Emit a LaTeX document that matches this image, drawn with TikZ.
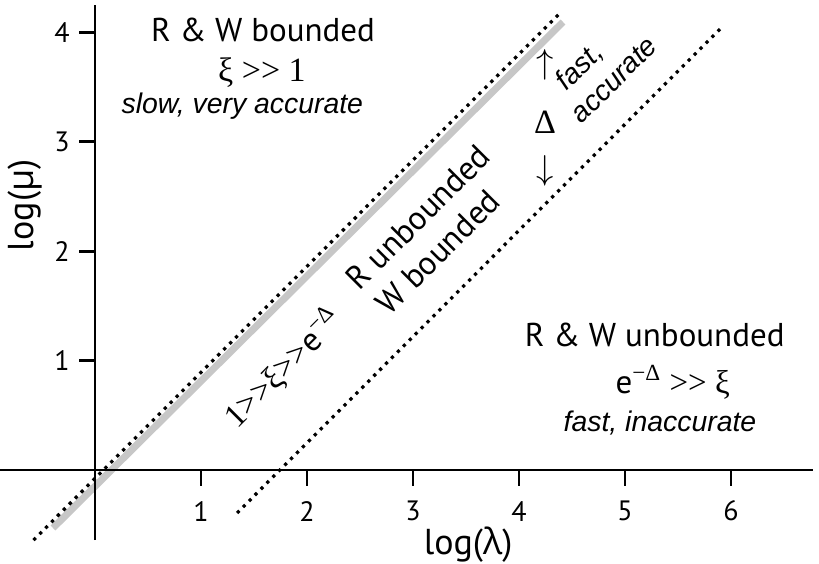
\documentclass[tikz,border=0pt]{standalone}
\usepackage{fontspec}
\setmainfont{PT Sans}
\newfontfamily\itfont{Liberation Sans}
\newfontfamily\tmfont{Liberation Serif}
\newfontfamily\grkfont{Open Sans}
\begin{document}
\begin{tikzpicture}[x=53pt, y=54.7pt, line cap=butt,
    axisline/.style={line width=1.4pt},
    dotline/.style={line width=1.6pt, dash pattern=on 1.6pt off 2.6pt},
    bandline/.style={line width=3.5pt, black!22},
    mainlbl/.style={font=\fontsize{16.5}{20}\selectfont, inner sep=0pt},
    slantlbl/.style={font=\itfont\itshape\fontsize{14.2}{17}\selectfont, inner sep=0pt},
    symlbl/.style={font=\tmfont\fontsize{17}{20}\selectfont, inner sep=0pt},
    ticklbl/.style={font=\fontsize{14}{16}\selectfont, inner sep=0pt},
    axislbl/.style={font=\fontsize{18}{20}\selectfont, inner sep=0pt}]
	\useasboundingbox (-0.896,-0.850) rectangle (6.830,4.296);
	
	% 1. 对角分界线
	\draw[bandline] (-0.396,-0.53) -- (4.415,4.095);
	\draw[dotline] (-0.58,-0.64) -- (4.387,4.177);
	\draw[dotline] (1.34,-0.393) -- (5.915,4.049);
	
	% 2. 坐标轴
	\draw[axisline] (-0.896,0) -- (6.77,0);
	\draw[axisline] (0,-0.64) -- (0,4.25);
	\node[axislbl] (xlab) at (3.52,-0.686) {log({\grkfont λ})};
	\node[axislbl, rotate=90] (ylab) at (-0.66,2.42) {log({\grkfont μ})};
	
	% 刻度
	\draw[axisline] (1,0) -- (1,-0.146); \node[ticklbl] (x1) at (1,-0.375) {1};
	\draw[axisline] (2,0) -- (2,-0.146); \node[ticklbl] (x2) at (2,-0.375) {2};
	\draw[axisline] (3,0) -- (3,-0.146); \node[ticklbl] (x3) at (3,-0.375) {3};
	\draw[axisline] (4,0) -- (4,-0.146); \node[ticklbl] (x4) at (4,-0.375) {4};
	\draw[axisline] (5,0) -- (5,-0.146); \node[ticklbl] (x5) at (5,-0.375) {5};
	\draw[axisline] (6,0) -- (6,-0.146); \node[ticklbl] (x6) at (6,-0.375) {6};
	\draw[axisline] (0,1) -- (-0.151,1); \node[ticklbl] (y1) at (-0.311,1) {1};
	\draw[axisline] (0,2) -- (-0.151,2); \node[ticklbl] (y2) at (-0.311,2) {2};
	\draw[axisline] (0,3) -- (-0.151,3); \node[ticklbl] (y3) at (-0.311,3) {3};
	\draw[axisline] (0,4) -- (-0.151,4); \node[ticklbl] (y4) at (-0.311,4) {4};
	
	% 3. 左上区域
	\node[mainlbl] (bndtitle) at (1.585,4.02) {R \& W bounded};
	\node[symlbl] (bndrel) at (1.575,3.63) {ξ >> 1};
	\node[slantlbl] (bndnote) at (1.39,3.33) {slow, very accurate};
	
	% 4. 右下区域
	\node[mainlbl] (unbtitle) at (5.28,1.234) {R \& W unbounded};
	\node[mainlbl] (unbrel) at (5.45,0.80) {e\textsuperscript{\tmfont −Δ}{\tmfont\ >> ξ}};
	\node[slantlbl] (unbnote) at (5.33,0.43) {fast, inaccurate};
	
	% 5. 中间斜向文字
	\node[mainlbl, rotate=45] (runb) at (3.047,2.313) {R unbounded};
	\node[mainlbl, rotate=45] (wbnd) at (3.236,1.993) {W bounded};
	\node[mainlbl, rotate=45] (midrel) at (1.774,0.932) {{\tmfont 1>>ξ>>}e\textsuperscript{\tmfont −Δ}};
	
	% 6. Δ 与箭头
	\node[font=\fontsize{19}{19}\selectfont, inner sep=0pt] (uparr) at (4.245,3.70) {$\uparrow$};
	\node[symlbl] (delta) at (4.245,3.18) {Δ};
	\node[font=\fontsize{19}{19}\selectfont, inner sep=0pt] (dnarr) at (4.245,2.733) {$\downarrow$};
	\node[slantlbl, rotate=45] (fastlbl) at (4.575,3.684) {fast,};
	\node[slantlbl, rotate=45] (acclbl) at (4.896,3.565) {accurate};
\end{tikzpicture}
\end{document}
